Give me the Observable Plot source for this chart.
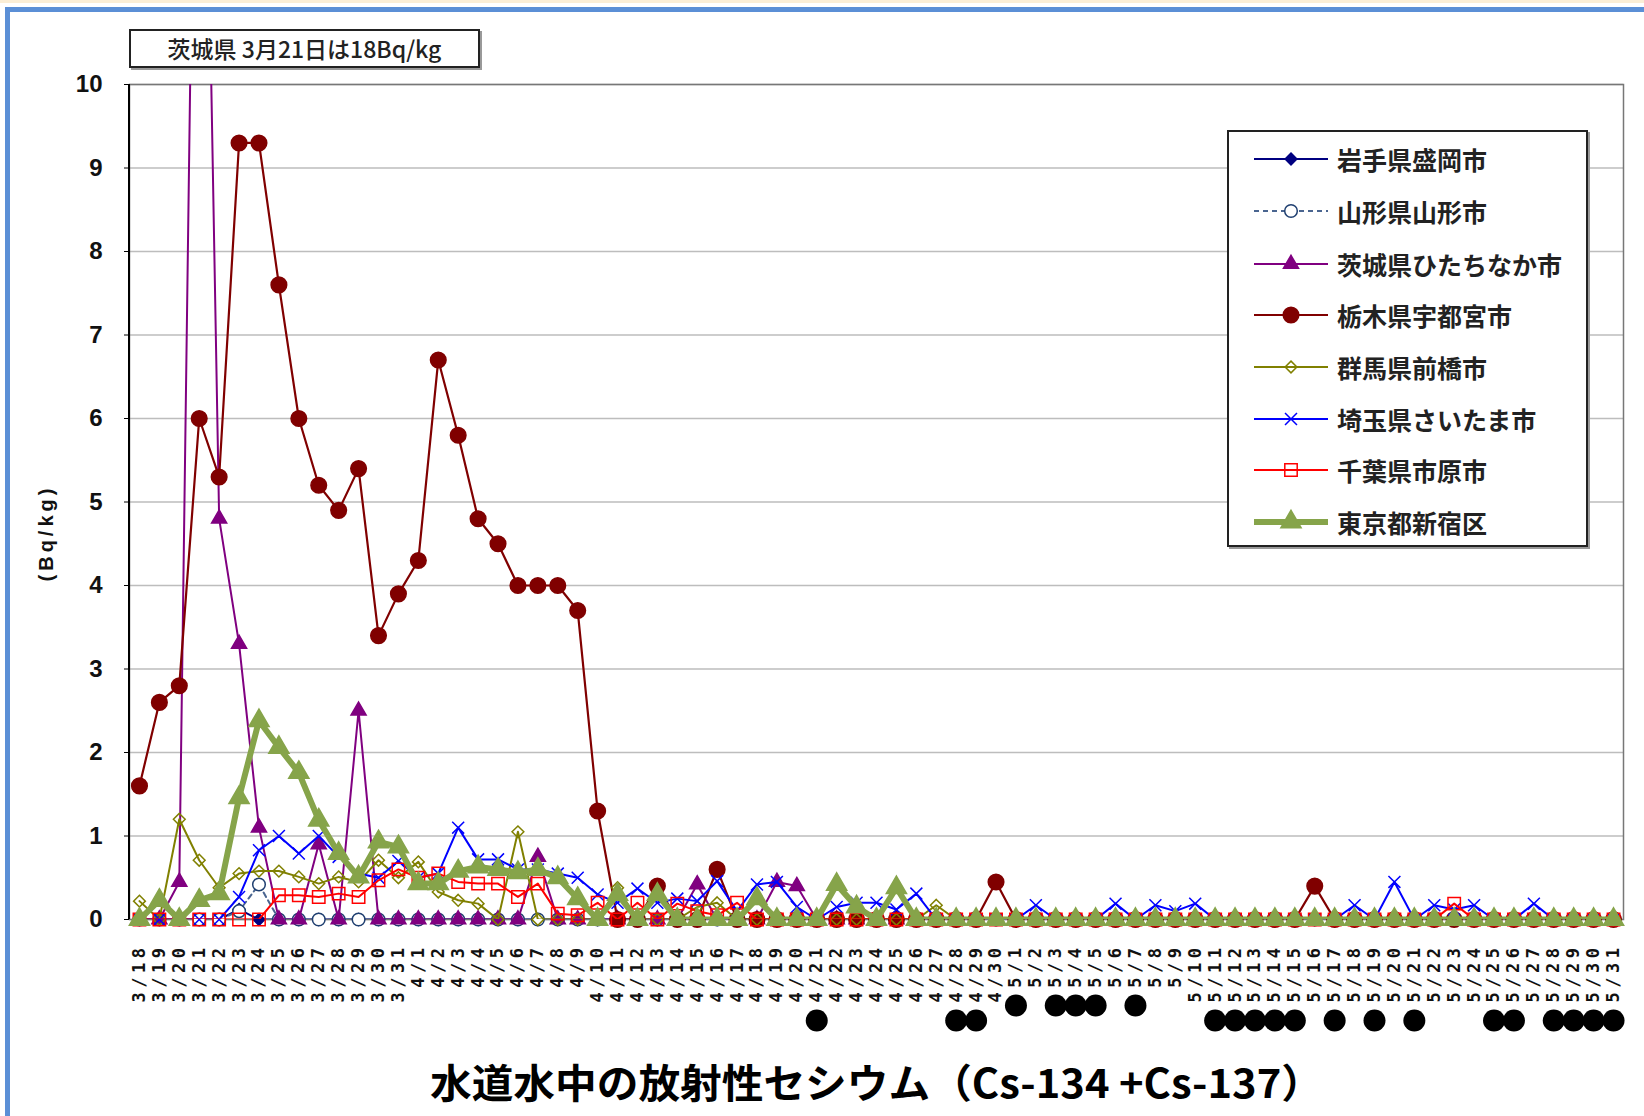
<!DOCTYPE html>
<html><head><meta charset="utf-8">
<script src="https://cdn.jsdelivr.net/npm/d3@7"></script>
<script src="https://cdn.jsdelivr.net/npm/@observablehq/plot@0.6"></script>
<style>
html,body{margin:0;padding:0;background:#fff;}
body{width:1644px;height:1116px;overflow:hidden;position:relative;font-family:"Noto Sans CJK JP",sans-serif;}
#chart{position:absolute;left:0;top:0;}
#topline{position:absolute;left:0;top:0;width:1644px;height:3px;background:#fbeed6;}
#frame{position:absolute;left:5px;top:7px;width:1700px;height:1200px;border-top:5px solid #5b8fd6;border-left:5px solid #5b8fd6;box-sizing:border-box;}
#note{position:absolute;left:129px;top:29px;width:351px;height:39px;border:2px solid #222;box-shadow:2px 2px 0 #999;box-sizing:border-box;background:#fff;
  font-size:23px;line-height:34px;text-align:center;color:#222;font-weight:500;}
#ylab{position:absolute;left:46px;top:533px;transform:translate(-50%,-50%) rotate(-90deg);font-family:"Liberation Sans",Arial,sans-serif;font-size:20px;letter-spacing:4px;font-weight:bold;white-space:nowrap;color:#111;}
#legend{position:absolute;left:1227px;top:130px;width:361px;height:417px;border:2px solid #222;box-shadow:2px 2px 0 #999;box-sizing:border-box;background:#fff;}
.lrow{position:absolute;left:0;height:40px;display:flex;align-items:center;}
.lrow svg{margin-left:23px;}
.lrow span{margin-left:7px;font-size:25px;font-weight:bold;color:#222;white-space:nowrap;}
#title{position:absolute;left:129px;width:1494px;top:1056px;height:50px;text-align:center;}
#title span{display:inline-block;font-size:40px;font-weight:bold;line-height:50px;white-space:nowrap;transform-origin:center;color:#000;}
g[aria-label="x-axis tick label"] text{letter-spacing:4.5px;}
</style></head><body>
<div id="topline"></div>
<div id="chart"></div>
<div id="frame"></div>
<div id="note">茨城県 3月21日は18Bq/kg</div>
<div id="ylab">(Bq/kg)</div>
<div id="legend"></div>
<div id="title"><span>水道水中の放射性セシウム（Cs-134 +Cs-137）</span></div>
<script>
// ---- data ----
const dates = [
 "3/18","3/19","3/20","3/21","3/22","3/23","3/24","3/25","3/26","3/27","3/28","3/29","3/30","3/31",
 "4/1","4/2","4/3","4/4","4/5","4/6","4/7","4/8","4/9","4/10","4/11","4/12","4/13","4/14","4/15",
 "4/16","4/17","4/18","4/19","4/20","4/21","4/22","4/23","4/24","4/25","4/26","4/27","4/28","4/29","4/30",
 "5/1","5/2","5/3","5/4","5/5","5/6","5/7","5/8","5/9","5/10","5/11","5/12","5/13","5/14","5/15","5/16",
 "5/17","5/18","5/19","5/20","5/21","5/22","5/23","5/24","5/25","5/26","5/27","5/28","5/29","5/30","5/31"
];
const seriesNames = ["岩手県盛岡市","山形県山形市","茨城県ひたちなか市","栃木県宇都宮市","群馬県前橋市","埼玉県さいたま市","千葉県市原市","東京都新宿区"];

const morioka = [
 0,0,0,0,0,0.12,0,0,0,0,0,0,0,0,
 0,0,0,0,0,0,0,0,0,0, 0,0,0,0,0,0,0,0,0,0, 0,0,0,0,0,0,0,0,0,0,
 0,0,0,0,0,0,0,0,0,0, 0,0,0,0,0,0,0,0,0,0, 0,0,0,0,0,0,0,0,0,0,0
];
const yamagata = [
 0,0,0,0,0,0.1,0.42,0,0,0,0,0,0,0,
 0,0,0,0,0,0,0,0,0,0, 0,0,0,0,0,0,0,0,0,0, 0,0,0,0,0,0,0,0,0,0,
 0,0,0,0,0,0,0,0,0,0, 0,0,0,0,0,0,0,0,0,0, 0,0,0,0,0,0,0,0,0,0,0
];
const hitachinaka = [
 0,0,0.45,18,4.8,3.3,1.1,0,0,0.9,0,2.5,0,0,
 0,0,0,0,0,0,0.75,0,0,0, 0,0,0,0,0.42,0,0,0,0.45,0.4, 0,0,0,0,0,0,0,0,0,0,
 0,0,0,0,0,0,0,0,0,0, 0,0,0,0,0,0,0,0,0,0, 0,0,0,0,0,0,0,0,0,0,0
];
const utsunomiya = [
 1.6,2.6,2.8,6.0,5.3,9.3,9.3,7.6,6.0,5.2,4.9,5.4,3.4,3.9,
 4.3,6.7,5.8,4.8,4.5,4.0,4.0,4.0,3.7,1.3, 0,0,0.4,0,0,0.6,0,0,0,0, 0,0,0,0,0,0,0,0,0,0.45,
 0,0,0,0,0,0,0,0,0,0, 0,0,0,0,0,0.4,0,0,0,0, 0,0,0,0,0,0,0,0,0,0,0
];
const maebashi = [
 0.22,0,1.2,0.71,0.38,0.55,0.58,0.58,0.51,0.43,0.51,0.45,0.71,0.5,
 0.69,0.33,0.23,0.19,0,1.05,0,0,0,0, 0.38,0,0,0,0.15,0.2,0,0,0,0, 0,0,0,0,0,0,0.17,0,0,0,
 0,0,0,0,0,0,0,0,0,0, 0,0,0,0,0,0,0,0,0,0, 0,0,0,0,0,0,0,0,0,0,0
];
const saitama = [
 0,0,0,0,0,0.27,0.83,1.0,0.79,1.0,0.75,0.55,0.5,0.7,
 0.5,0.55,1.1,0.72,0.72,0.6,0.6,0.55,0.5,0.3, 0.2,0.37,0.2,0.25,0.22,0.46,0.1,0.42,0.45,0.15, 0,0.15,0.2,0.2,0.12,0.31,0,0,0,0,
 0,0.17,0,0,0,0.19,0,0.17,0.1,0.19, 0,0,0,0,0,0,0,0.17,0,0.45, 0,0.17,0.12,0.17,0,0,0.19,0,0,0,0
];
const ichihara = [
 0,0,0,0,0,0,0,0.29,0.29,0.27,0.31,0.27,0.47,0.6,
 0.5,0.55,0.45,0.43,0.43,0.27,0.43,0.07,0.05,0.2, 0,0.2,0,0.19,0.1,0.05,0.2,0,0,0, 0,0,0,0,0,0,0,0,0,0,
 0,0,0,0,0,0,0,0,0,0, 0,0,0,0,0,0,0,0,0,0, 0,0,0.19,0,0,0,0,0,0,0,0
];
const shinjuku = [
 0,0.23,0,0.23,0.31,1.46,2.38,2.06,1.76,1.19,0.79,0.51,0.93,0.87,
 0.43,0.43,0.58,0.63,0.6,0.56,0.6,0.5,0.25,0, 0.3,0,0.3,0,0,0,0,0.25,0,0, 0,0.42,0.15,0,0.38,0,0,0,0,0,
 0,0,0,0,0,0,0,0,0,0, 0,0,0,0,0,0,0,0,0,0, 0,0,0,0,0,0,0,0,0,0,0
];
const seriesValues = [morioka, yamagata, hitachinaka, utsunomiya, maebashi, saitama, ichihara, shinjuku];
// dates marked with a black dot under the axis label
const markedDates = ["4/21","4/28","4/29","5/1","5/3","5/4","5/5","5/7","5/11","5/12","5/13","5/14","5/15","5/17","5/19","5/21","5/25","5/26","5/28","5/29","5/30","5/31"];
const yTicks = [0,1,2,3,4,5,6,7,8,9,10];

// ---- styles ----
const styles = [
 {line:"#000080", symbol:"diamond2", r:5.3, fill:"#000080", mstroke:"#000080", sw:2},
 {line:"#4a6590", symbol:"circle", r:6.3, fill:"#fff", mstroke:"#1f3f70", sw:2, dash:"5,4"},
 {line:"#800080", symbol:"triangle", r:5.6, fill:"#800080", mstroke:"#800080", sw:2},
 {line:"#800000", symbol:"circle", r:7.8, fill:"#800000", mstroke:"#800000", sw:2.2},
 {line:"#808000", symbol:"diamond2", r:5.3, fill:"none", mstroke:"#808000", sw:2},
 {line:"#0000ff", symbol:"times", r:5.5, fill:"none", mstroke:"#0000ff", sw:2},
 {line:"#ff0000", symbol:"square", r:7, fill:"none", mstroke:"#ff0000", sw:2},
 {line:"#86a44a", symbol:"triangle", r:7.5, fill:"#86a44a", mstroke:"#86a44a", sw:6}
];

const marks = [
  Plot.gridY(yTicks, {stroke:"#bdbdbd", strokeOpacity:1, strokeWidth:1.5}),
  Plot.frame({stroke:"#777", strokeWidth:1.5})
];
seriesValues.forEach((vals, k) => {
  const rows = dates.map((d, i) => ({date: d, value: vals[i], series: seriesNames[k]}));
  const s = styles[k];
  marks.push(Plot.line(rows, {x:"date", y:"value", stroke:s.line, strokeWidth:s.sw, strokeDasharray:s.dash, clip:"frame", curve:"linear"}));
  marks.push(Plot.dot(rows, {x:"date", y:"value", symbol:s.symbol, r:s.r, fill:s.fill, stroke:s.mstroke, strokeWidth:1.5}));
});
const shortMarked = markedDates.filter(d => d.length === 3);
const longMarked = markedDates.filter(d => d.length !== 3);
marks.push(Plot.dot(shortMarked, {x: d => d, frameAnchor:"bottom", dy:86, r:11, fill:"#000"}));
marks.push(Plot.dot(longMarked, {x: d => d, frameAnchor:"bottom", dy:101, r:11, fill:"#000"}));
marks.push(Plot.axisY({ticks:yTicks, tickSize:5, tickPadding:22, fontSize:24, fontWeight:"bold", fontFamily:"Liberation Sans, Arial, sans-serif", tickFormat:d=>String(d), label:null, stroke:"#000"}));
marks.push(Plot.axisX({tickRotate:-90, tickSize:0, tickPadding:24, fontSize:17, fontWeight:"bold", fontFamily:"DejaVu Sans Mono, monospace", label:null}));

const chart = Plot.plot({
  width:1644, height:1050,
  marginLeft:129, marginRight:21, marginTop:84, marginBottom:131,
  style:{background:"transparent", color:"#111", overflow:"visible"},
  x:{type:"point", domain:dates, padding:0.5, align:0.5},
  y:{domain:[0,10]},
  marks
});
document.getElementById("chart").appendChild(chart);

// left axis line (black) along the frame edge
const svgns = "http://www.w3.org/2000/svg";
const axisLine = document.createElementNS(svgns, "line");
axisLine.setAttribute("x1",129); axisLine.setAttribute("x2",129);
axisLine.setAttribute("y1",84); axisLine.setAttribute("y2",919);
axisLine.setAttribute("stroke","#000"); axisLine.setAttribute("stroke-width","2");
chart.appendChild(axisLine);

// ---- legend ----
const symMap = {diamond2:d3.symbolDiamond2, circle:d3.symbolCircle, triangle:d3.symbolTriangle, times:d3.symbolTimes, square:d3.symbolSquare};
const legend = document.getElementById("legend");
const rowTops = [7, 59, 112, 163, 215, 267, 318, 370];
seriesNames.forEach((name, k) => {
  const s = styles[k];
  const row = document.createElement("div");
  row.className = "lrow";
  row.style.top = rowTops[k] + "px";
  const svg = d3.create("svg").attr("width", 78).attr("height", 40);
  svg.append("line").attr("x1",2).attr("x2",76).attr("y1",20).attr("y2",20)
     .attr("stroke", s.line).attr("stroke-width", s.sw).attr("stroke-dasharray", s.dash || null);
  svg.append("path").attr("transform","translate(39,20)")
     .attr("d", d3.symbol(symMap[s.symbol], Math.PI*s.r*s.r)())
     .attr("fill", s.fill).attr("stroke", s.mstroke).attr("stroke-width",1.5);
  row.appendChild(svg.node());
  const t = document.createElement("span");
  t.textContent = name;
  row.appendChild(t);
  legend.appendChild(row);
});

// ---- title fit ----
const ts = document.querySelector("#title span");
const w = ts.getBoundingClientRect().width;
ts.style.transform = `scaleX(${893 / w})`;
</script>
</body></html>
